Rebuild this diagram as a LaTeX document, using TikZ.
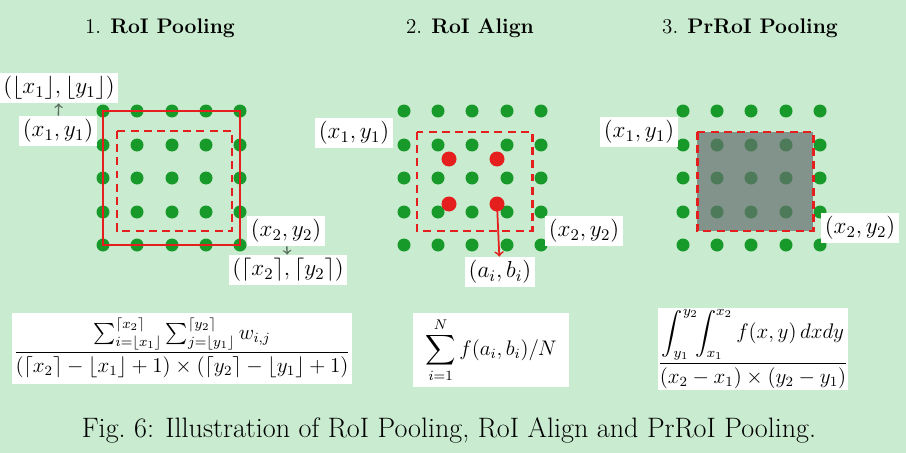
\RequirePackage{fix-cm}
\documentclass[tikz,border=0pt]{standalone}
\usepackage{amsmath}
\usepackage{amssymb}
\usepackage{tikz}
\usetikzlibrary{positioning,calc}
\definecolor{leaf}     {HTML}{C9EBD0}
\definecolor{grid}     {HTML}{179A2A}
\definecolor{roi}      {HTML}{E51E1E}
\definecolor{pin}      {HTML}{5A6E5F}
\definecolor{haze}     {HTML}{646E6E}
\tikzset{
  % --- nodes
  ttl/.style   = {font=\large},
  lab/.style   = {fill=white, inner sep=2pt, font=\fontsize{13.2}{16}\selectfont},
  frm/.style   = {fill=white, inner sep=0pt, align=center, font=\large},
  figcap/.style= {font=\fontsize{16}{19}\selectfont},
  % --- shapes
  dot/.style   = {fill=grid},
  hit/.style   = {circle, fill=roi, inner sep=0pt, minimum size=0.3cm},
  box/.style   = {draw=roi, line width=1.7pt},
  dbox/.style  = {box, dash pattern=on 4.5pt off 3pt},
  % --- edges
  e/.style     = {->, draw=pin, line width=0.8pt},
  er/.style    = {->, draw=roi, line width=1pt},
}
\begin{document}
\begin{tikzpicture}[x=0.02cm,y=-0.02cm]
  \fill[leaf] (0,0) rectangle (906,453);
  \useasboundingbox (0,0) rectangle (906,453);

  % titles
  \node[ttl] (t1) at (160,28) {1. \textbf{RoI Pooling}};
  \node[ttl] (t2) at (470,28) {2. \textbf{RoI Align}};
  \node[ttl] (t3) at (750,28) {3. \textbf{PrRoI Pooling}};

  % 1. roi pooling
  \foreach \x in {103,137,172,206,240}
    \foreach \y in {111,145,178,212,245}
      \fill[dot] (\x,\y) circle (0.13cm);
  \draw[box]  (103,111) rectangle (240,245);
  \draw[dbox] (117,131) rectangle (232,231);
  \node[lab] (fl1) at (59,88)   {$(\lfloor x_1\rfloor,\lfloor y_1\rfloor)$};
  \node[lab] (p1)  at (58,131)  {$(x_1,y_1)$};
  \node[lab] (p2)  at (286,231) {$(x_2,y_2)$};
  \node[lab] (cl2) at (288,270) {$(\lceil x_2\rceil,\lceil y_2\rceil)$};
  \draw[e] (p1) -- (fl1);
  \draw[e] (p2) -- (cl2);

  % 2. roi align
  \foreach \x in {404,438,472,507,541}
    \foreach \y in {111,145,178,212,245}
      \fill[dot] (\x,\y) circle (0.13cm);
  \draw[dbox] (417,132) rectangle (532,231);
  \node[hit] (s1) at (449,159) {};
  \node[hit] (s2) at (497,159) {};
  \node[hit] (s3) at (449,204) {};
  \node[hit] (s4) at (497,204) {};
  \node[lab] (q1) at (354,133) {$(x_1,y_1)$};
  \node[lab] (q2) at (584,231) {$(x_2,y_2)$};
  \node[lab] (ab) at (500,272) {$(a_i,b_i)$};
  \draw[er] (s4.center) -- (ab);

  % 3. prroi pooling
  \foreach \x in {683,717,751,786,820}
    \foreach \y in {111,145,178,212,245}
      \fill[dot] (\x,\y) circle (0.13cm);
  \fill[haze, opacity=0.7] (697,132) rectangle (813,231);
  \draw[dbox] (697,132) rectangle (813,231);
  \node[lab] (r1) at (639,132) {$(x_1,y_1)$};
  \node[lab] (r2) at (860,228) {$(x_2,y_2)$};

  % formulas
  \node[frm, minimum width=340*0.02cm, minimum height=71*0.02cm] (f1) at (182,348)
    {$\displaystyle\frac{\sum_{i=\lfloor x_1\rfloor}^{\lceil x_2\rceil}\sum_{j=\lfloor y_1\rfloor}^{\lceil y_2\rceil} w_{i,j}}{(\lceil x_2\rceil-\lfloor x_1\rfloor+1)\times(\lceil y_2\rceil-\lfloor y_1\rfloor+1)}$};
  \node[frm, minimum width=156*0.02cm, minimum height=74*0.02cm] (f2) at (491,350)
    {$\displaystyle\sum_{i=1}^{N} f(a_i,b_i)/N$};
  \node[frm, minimum width=185*0.02cm, minimum height=82*0.02cm] (f3) at (753,349)
    {$\displaystyle\frac{\displaystyle\int_{y_1}^{y_2}\!\!\int_{x_1}^{x_2} f(x,y)\,dxdy}{(x_2-x_1)\times(y_2-y_1)}$};

  % caption
  \node[figcap] (c) at (449,430) {Fig.~6: Illustration of RoI Pooling, RoI Align and PrRoI Pooling.};
\end{tikzpicture}
\end{document}
